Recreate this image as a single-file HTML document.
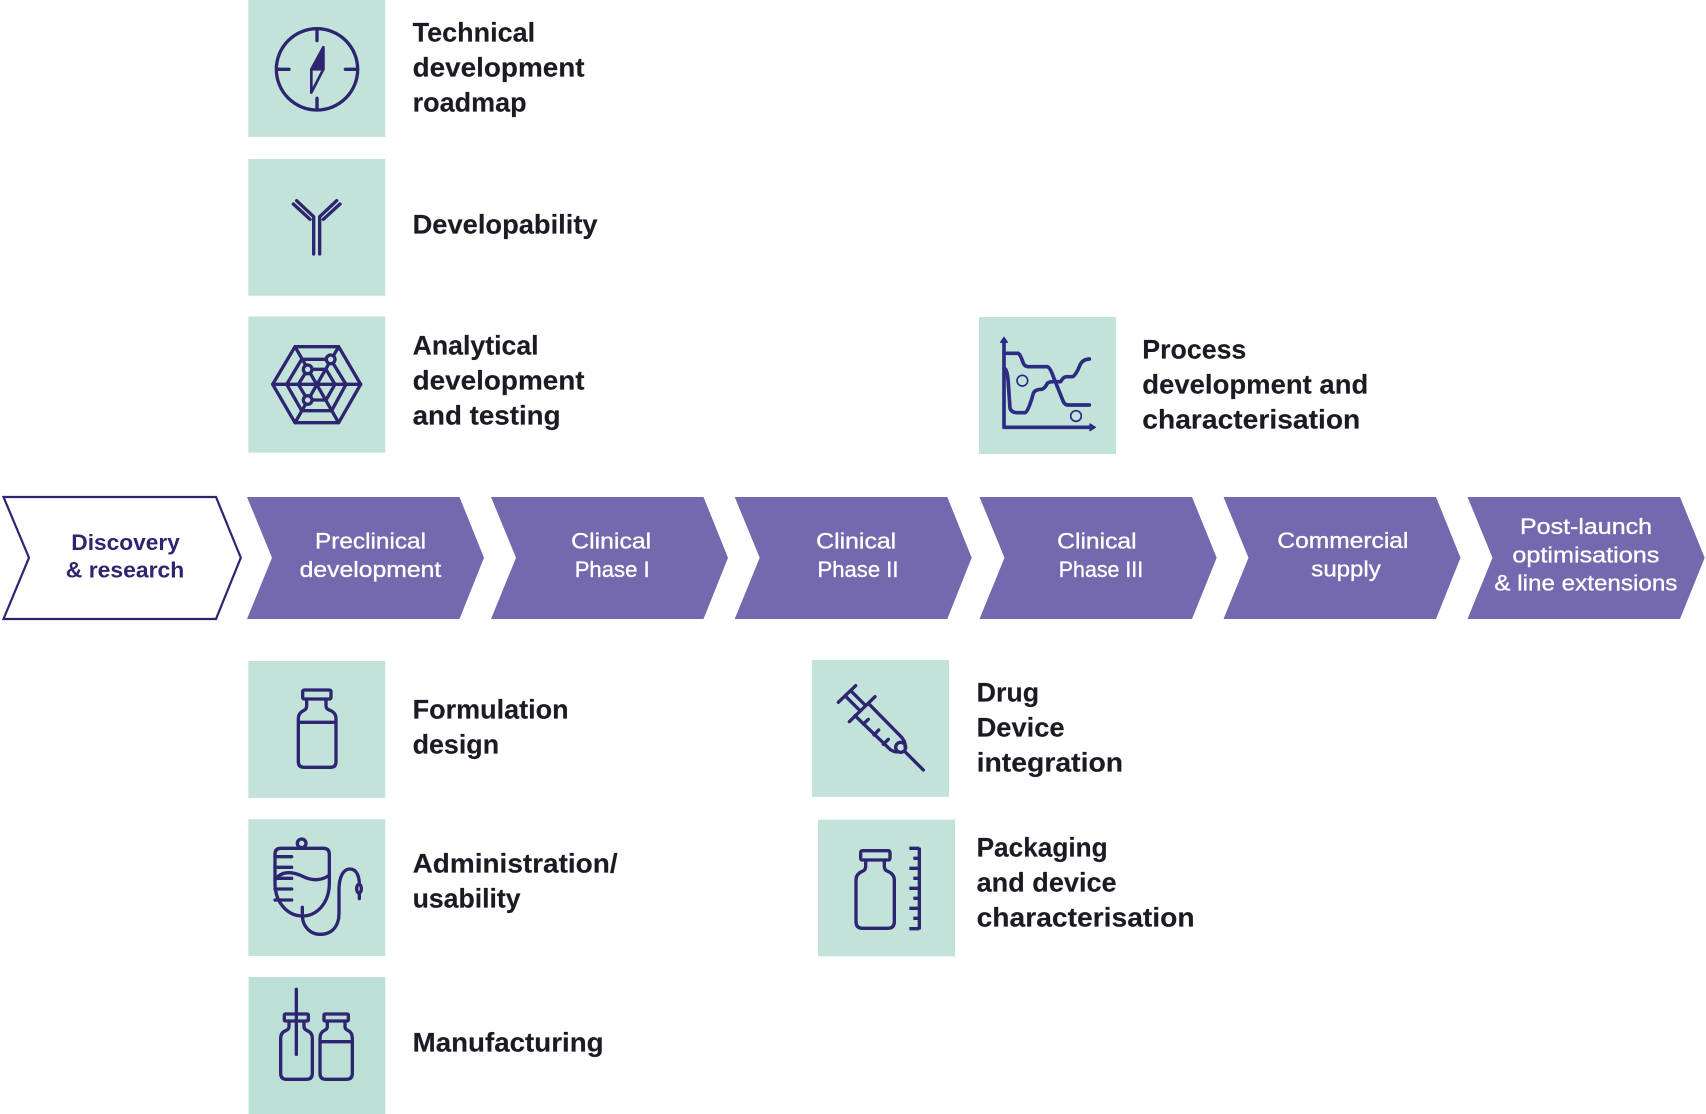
<!DOCTYPE html>
<html><head><meta charset="utf-8"><style>
html,body{margin:0;padding:0;background:#fff;width:1706px;height:1114px;overflow:hidden}
svg{display:block}
text{font-family:"Liberation Sans",sans-serif}
.l{font-size:27px;font-weight:700;fill:#1b1b24;stroke:#1b1b24;stroke-width:.15}
.c{font-size:22.5px;fill:#fff;stroke:#fff;stroke-width:.35}
.d{font-size:22.5px;font-weight:700;fill:#2e2570}
.i{fill:none;stroke:#2e2570;stroke-width:10;stroke-linecap:round;stroke-linejoin:round}
</style></head><body>
<svg width="1706" height="1114" viewBox="0 0 1706 1114" xmlns="http://www.w3.org/2000/svg">
<rect width="1706" height="1114" fill="#fff"/>
<g fill="#c3e3da">
<rect x="248.3" y="0" width="137" height="136.9"/>
<rect x="248.3" y="159" width="137" height="136.7"/>
<rect x="248.3" y="316.5" width="137" height="136.2"/>
<rect x="979" y="317" width="137" height="137"/>
<rect x="248.3" y="661" width="137" height="136.9"/>
<rect x="248.3" y="819.2" width="137" height="136.7"/>
<rect x="248.6" y="977" width="136.7" height="137" fill="#bde0d6"/>
<rect x="812" y="660" width="137" height="136.9"/>
<rect x="818" y="819.7" width="137" height="136.6"/>
</g>
<polygon points="3.5,497 216,497 240.8,557.7 216,619 3.5,619 29,557.7" fill="#fff" stroke="#2e2570" stroke-width="2.2"/>
<g fill="#7468ae">
<polygon points="247,497 459.5,497 484,557.7 459.5,619 247,619 272,557.7"/>
<polygon points="491,497 703.5,497 728,557.7 703.5,619 491,619 516,557.7"/>
<polygon points="734.7,497 947.3,497 971.7,557.7 947.3,619 734.7,619 759.7,557.7"/>
<polygon points="979.5,497 1192,497 1216.7,557.7 1192,619 979.5,619 1004.5,557.7"/>
<polygon points="1223.5,497 1436,497 1460.5,557.7 1436,619 1223.5,619 1248.5,557.7"/>
<polygon points="1467.5,497 1680,497 1704.7,557.7 1680,619 1467.5,619 1492.5,557.7"/>
</g>
<text class="d" x="71.3" y="550" textLength="108.6" lengthAdjust="spacingAndGlyphs">Discovery</text>
<text class="d" x="65.8" y="577.7" textLength="118.5" lengthAdjust="spacingAndGlyphs">&amp; research</text>
<text class="c" x="315" y="548.7" textLength="111" lengthAdjust="spacingAndGlyphs">Preclinical</text>
<text class="c" x="299.7" y="577" textLength="141.5" lengthAdjust="spacingAndGlyphs">development</text>
<text class="c" x="571.2" y="548.7" textLength="80" lengthAdjust="spacingAndGlyphs">Clinical</text>
<text class="c" x="574.7" y="577" textLength="75" lengthAdjust="spacingAndGlyphs">Phase I</text>
<text class="c" x="816.2" y="548.7" textLength="80" lengthAdjust="spacingAndGlyphs">Clinical</text>
<text class="c" x="817.5" y="577" textLength="81" lengthAdjust="spacingAndGlyphs">Phase II</text>
<text class="c" x="1057.2" y="548.7" textLength="79.4" lengthAdjust="spacingAndGlyphs">Clinical</text>
<text class="c" x="1058.8" y="577" textLength="84.4" lengthAdjust="spacingAndGlyphs">Phase III</text>
<text class="c" x="1277.4" y="548" textLength="131" lengthAdjust="spacingAndGlyphs">Commercial</text>
<text class="c" x="1311.3" y="576.7" textLength="69.5" lengthAdjust="spacingAndGlyphs">supply</text>
<text class="c" x="1520" y="534" textLength="132" lengthAdjust="spacingAndGlyphs">Post-launch</text>
<text class="c" x="1512.4" y="562.7" textLength="147" lengthAdjust="spacingAndGlyphs">optimisations</text>
<text class="c" x="1494.4" y="590.7" textLength="183" lengthAdjust="spacingAndGlyphs">&amp; line extensions</text>

<text class="l" x="412.6" y="41.3" textLength="122.5" lengthAdjust="spacingAndGlyphs">Technical</text>
<text class="l" x="412.6" y="76.7" textLength="172" lengthAdjust="spacingAndGlyphs">development</text>
<text class="l" x="412.6" y="111.7" textLength="114" lengthAdjust="spacingAndGlyphs">roadmap</text>
<text class="l" x="412.6" y="233.3" textLength="185" lengthAdjust="spacingAndGlyphs">Developability</text>
<text class="l" x="412.6" y="354.3" textLength="126" lengthAdjust="spacingAndGlyphs">Analytical</text>
<text class="l" x="412.6" y="389.3" textLength="172" lengthAdjust="spacingAndGlyphs">development</text>
<text class="l" x="412.6" y="424.3" textLength="148" lengthAdjust="spacingAndGlyphs">and testing</text>
<text class="l" x="1142.3" y="358.6" textLength="104" lengthAdjust="spacingAndGlyphs">Process</text>
<text class="l" x="1142.3" y="393.7" textLength="226" lengthAdjust="spacingAndGlyphs">development and</text>
<text class="l" x="1142.3" y="428.7" textLength="218" lengthAdjust="spacingAndGlyphs">characterisation</text>
<text class="l" x="412.6" y="718.7" textLength="156" lengthAdjust="spacingAndGlyphs">Formulation</text>
<text class="l" x="412.6" y="753.3" textLength="86.5" lengthAdjust="spacingAndGlyphs">design</text>
<text class="l" x="412.6" y="872.7" textLength="205" lengthAdjust="spacingAndGlyphs">Administration/</text>
<text class="l" x="412.6" y="907.3" textLength="108" lengthAdjust="spacingAndGlyphs">usability</text>
<text class="l" x="412.6" y="1051.7" textLength="191" lengthAdjust="spacingAndGlyphs">Manufacturing</text>
<text class="l" x="976.6" y="701.7" textLength="62.5" lengthAdjust="spacingAndGlyphs">Drug</text>
<text class="l" x="976.6" y="736.7" textLength="88" lengthAdjust="spacingAndGlyphs">Device</text>
<text class="l" x="976.6" y="771.7" textLength="146.5" lengthAdjust="spacingAndGlyphs">integration</text>
<text class="l" x="976.6" y="856.7" textLength="131" lengthAdjust="spacingAndGlyphs">Packaging</text>
<text class="l" x="976.6" y="891.7" textLength="140" lengthAdjust="spacingAndGlyphs">and device</text>
<text class="l" x="976.6" y="926.7" textLength="218" lengthAdjust="spacingAndGlyphs">characterisation</text>

<g class="i" transform="translate(240,0) scale(.33333)">
<circle cx="231" cy="208" r="122"/>
<path d="M231,87V122M231,295V330M110,208H147M316,208H353"/>
<path d="M250,142L214,208V278L250,208Z" stroke-width="8"/>
<path d="M250,142L214,208H250Z" fill="#2e2570" stroke-width="8"/>
<path d="M160,612L210,658M170,602L221,650V762M300,612L250,658M290,602L239,650V762"/>
<path d="M98,1153L165,1040H296L362,1153L296,1268H165Z"/>
<path d="M140,1153L185,1078H272L318,1153L275,1232H185Z"/>
<path d="M175,1153L203,1108H258L285,1153L258,1200H203Z"/>
<path d="M98,1153H362M165,1040L296,1268M296,1040L165,1268"/>
<circle cx="203" cy="1108" r="13" fill="#c3e3da"/>
<circle cx="272" cy="1078" r="13" fill="#c3e3da"/>
<circle cx="203" cy="1200" r="13" fill="#c3e3da"/>
</g>
<g class="i" transform="translate(240,650) scale(.33333)">
<rect x="188" y="120" width="85" height="27" rx="5"/>
<path d="M200,147V168Q200,178 190,182Q175,190 175,205V335Q175,352 192,352H272Q288,352 288,335V205Q288,190 273,182Q258,178 258,168V147M175,217H288"/>
<circle cx="185" cy="580" r="13"/>
<path d="M122,595H250Q268,595 268,613V700C268,760 230,798 187,798C145,798 105,760 105,700V613Q105,595 122,595Z"/>
<path d="M105,690C125,660 160,665 190,680C220,695 250,690 268,675"/>
<path d="M105,620H155M105,652H155M105,685H155M105,717H155M105,750H155"/>
<path d="M187,772V800C190,835 215,853 240,853C275,853 297,830 297,790V720C297,680 310,657 330,657C350,657 358,680 358,703"/>
<ellipse cx="357" cy="716" rx="7" ry="13"/>
<path d="M358,730V746"/>
<path d="M169,1018V1213"/>
<rect x="133" y="1092" width="72" height="21" rx="3"/>
<path d="M147,1113V1130Q147,1138 137,1142Q122,1148 122,1165V1270Q122,1288 140,1288H199Q217,1288 217,1270V1165Q217,1148 202,1142Q192,1138 192,1130V1113"/>
<rect x="252" y="1092" width="73" height="21" rx="3"/>
<path d="M262,1113V1130Q262,1138 252,1142Q240,1148 240,1165V1270Q240,1288 258,1288H319Q337,1288 337,1270V1165Q337,1148 325,1142Q315,1138 315,1130V1113M240,1175H337"/>
</g>
<g class="i" transform="translate(800,650) scale(.33333)">
<path d="M115,157L167,107M148,215L225,140M135,137L178,180M152,122L195,165"/>
<path d="M205,160L305,262Q318,278 315,290M165,197L270,298Q285,308 295,305"/>
<circle cx="302" cy="292" r="15"/>
<path d="M313,303L370,360M190,222L205,208M222,255L236,240M250,283L265,268"/>
<rect x="182" y="602" width="88" height="28" rx="5"/>
<path d="M197,630V650Q197,660 187,664Q168,672 168,690V815Q168,835 188,835H263Q283,835 283,815V690Q283,672 263,664Q253,660 253,650V630"/>
<path d="M358,593V838M328,595H358M328,655H358M328,715H358M328,775H358M328,836H358M340,625H358M340,685H358M340,745H358M340,805H358" stroke-linecap="butt"/>
</g>
<g class="i" transform="translate(970,310) scale(.33333)" style="stroke:#2b2c82;stroke-width:11">
<path d="M102,92V352H366"/>
<path d="M102,82L92,97H112ZM376,352L360,342V362Z" fill="#2b2c82" stroke-width="4"/>
<path d="M102,130H145Q152,135 160,160Q165,170 175,170H232Q240,172 250,200L280,275Q285,285 295,285H358"/>
<path d="M102,175Q112,175 115,220L120,295Q125,308 140,308H165Q175,305 190,250Q195,238 215,238Q225,235 232,220Q238,215 250,215H272Q280,200 290,200H308Q318,195 330,165Q338,148 358,147"/>
<circle cx="157" cy="212" r="16" stroke-width="5"/>
<circle cx="318" cy="318" r="16" stroke-width="5"/>
</g>
</svg>
</body></html>
